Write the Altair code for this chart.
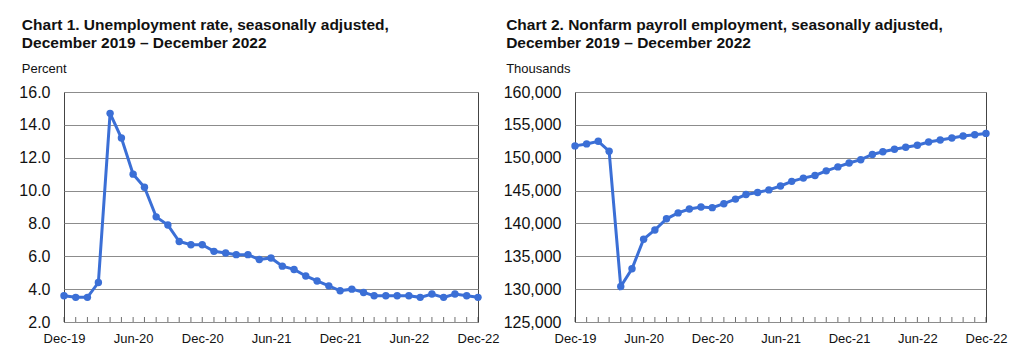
import altair as alt
import pandas as pd

months = pd.date_range("2019-12-01", "2022-12-01", freq="MS").strftime("%Y-%m-%d").tolist()

unemployment_rate = [3.6, 3.5, 3.5, 4.4, 14.7, 13.2, 11.0, 10.2, 8.4, 7.9, 6.9, 6.7, 6.7,
                     6.3, 6.2, 6.1, 6.1, 5.8, 5.9, 5.4, 5.2, 4.8, 4.5, 4.2, 3.9,
                     4.0, 3.8, 3.6, 3.6, 3.6, 3.6, 3.5, 3.7, 3.5, 3.7, 3.6, 3.5]

payroll = [151800, 152100, 152500, 151000, 130400, 133100, 137600, 139000, 140700,
           141600, 142200, 142500, 142400, 143000, 143700, 144400, 144700, 145100,
           145700, 146400, 146900, 147300, 148000, 148600, 149200, 149700, 150500,
           150900, 151300, 151600, 151900, 152400, 152700, 153000, 153300, 153500, 153700]

tick_label_dates = [(2019, 12), (2020, 6), (2020, 12), (2021, 6), (2021, 12), (2022, 6), (2022, 12)]

title1 = ["Chart 1. Unemployment rate, seasonally adjusted,", "December 2019 \u2013 December 2022"]
title2 = ["Chart 2. Nonfarm payroll employment, seasonally adjusted,", "December 2019 \u2013 December 2022"]
unit1 = "Percent"
unit2 = "Thousands"

LINE = "#3b6fd6"
FONT = "Liberation Sans"
H = 230

df1 = pd.DataFrame({"month": months, "value": unemployment_rate})
df2 = pd.DataFrame({"month": months, "value": payroll})

xvals = [alt.DateTime(year=y, month=m, date=1, utc=True) for y, m in tick_label_dates]
xdomain = [alt.DateTime(year=2019, month=12, date=1, utc=True),
           alt.DateTime(year=2022, month=12, date=1, utc=True)]


def panel(df, width, ydomain, yvals, yfmt, title, unit):
    x = alt.X("month:T",
              scale=alt.Scale(type="utc", domain=xdomain, nice=False),
              axis=alt.Axis(values=xvals, format="%b-%y", title=None, ticks=False,
                            domain=False, grid=False, labelFontSize=13, labelPadding=10,
                            labelColor="#111", labelFont=FONT, labelFlush=False))
    y = alt.Y("value:Q",
              scale=alt.Scale(domain=ydomain, nice=False, zero=False),
              axis=alt.Axis(values=yvals, format=yfmt, title=None, ticks=False,
                            domain=False, grid=True, gridColor="#8c8c8c", gridWidth=1,
                            labelFontSize=16, labelPadding=14, labelColor="#111",
                            labelFont=FONT))
    base = alt.Chart(df)
    line = base.mark_line(color=LINE, strokeWidth=3).encode(x=x, y=y)
    pts = base.mark_circle(color=LINE, size=55, opacity=1).encode(x=x, y=y)
    ticks = base.mark_tick(color="#333", thickness=1, size=5, orient="vertical").encode(
        x=x, y=alt.value(H - 2.5))
    return alt.layer(line, pts, ticks).properties(
        width=width, height=H,
        title=alt.TitleParams(text=title, subtitle=unit, anchor="start", frame="bounds",
                              font=FONT, fontSize=15.5, fontWeight="bold", color="#111",
                              lineHeight=18, subtitleFont=FONT, subtitleFontSize=13,
                              subtitleColor="#111", subtitlePadding=12, offset=8, dx=3))


c1 = panel(df1, 414, [2, 16], [2, 4, 6, 8, 10, 12, 14, 16], ".1f", title1, unit1)
c2 = panel(df2, 411, [125000, 160000],
           [125000, 130000, 135000, 140000, 145000, 150000, 155000, 160000], ",.0f", title2, unit2)

chart = alt.hconcat(c1, c2, spacing=2).properties(
    padding={"left": 10, "top": 9, "right": 5, "bottom": 5}
).configure_view(stroke="#444", strokeWidth=1)

chart.save("out.html", embed_options={"renderer": "svg", "actions": False})
